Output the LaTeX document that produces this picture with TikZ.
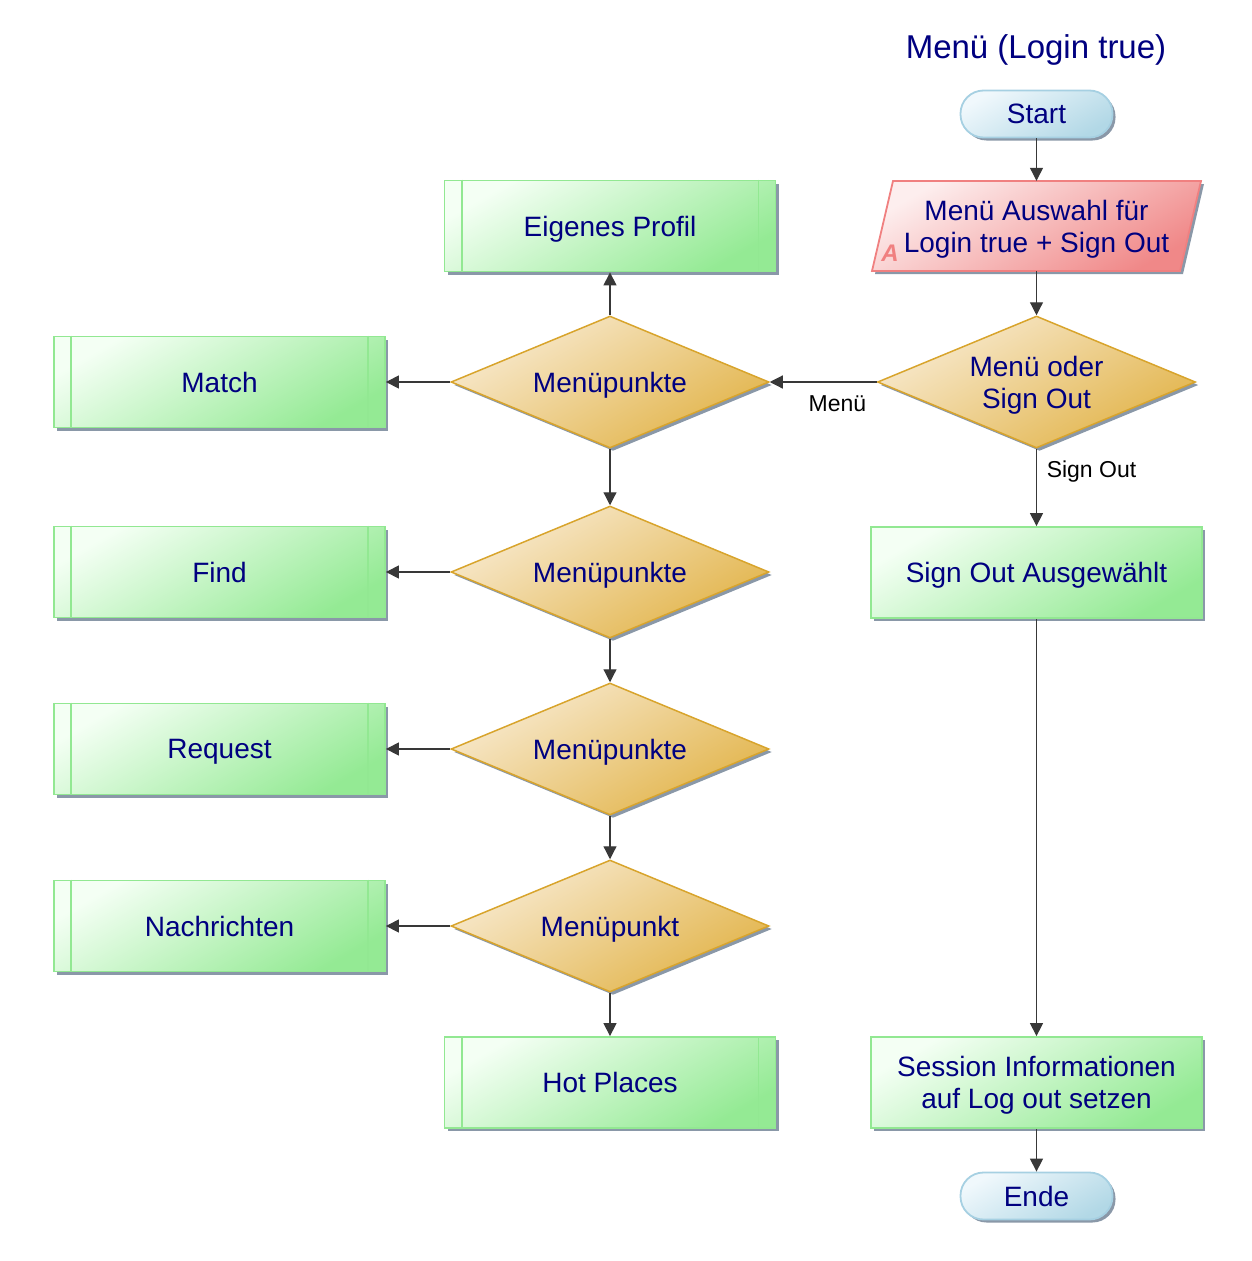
\documentclass[tikz,border=0pt]{standalone}
\usepackage{fontspec}
\setmainfont{Liberation Sans}
\usetikzlibrary{shapes.geometric,arrows.meta,shadows}
\definecolor{txt}{HTML}{000080}
\definecolor{grnA}{HTML}{F4FFF4}
\definecolor{grnB}{HTML}{94EA94}
\definecolor{grnLine}{HTML}{92E892}
\definecolor{golA}{HTML}{F8EAD0}
\definecolor{golB}{HTML}{E2B44A}
\definecolor{golLine}{HTML}{D8A42C}
\definecolor{pnkA}{HTML}{FDEEEE}
\definecolor{pnkB}{HTML}{F08888}
\definecolor{pnkLine}{HTML}{F08080}
\definecolor{bluA}{HTML}{F0F8FC}
\definecolor{bluB}{HTML}{B2D8E6}
\definecolor{bluLine}{HTML}{A6D0E2}
\definecolor{shad}{HTML}{8A98A8}
\begin{document}
\begin{tikzpicture}[x=1pt,y=-1pt,
  every node/.style={font=\fontsize{28}{32}\selectfont, text=txt, inner sep=0pt, align=center, text depth=0pt},
  myshadow/.style={general shadow={fill=shad, shadow xshift=3pt, shadow yshift=-3pt}},
  procbox/.style={rectangle, minimum width=331pt, minimum height=91pt, draw=grnLine, line width=1.8pt,
    top color=grnA, bottom color=grnB, shading angle=30, myshadow},
  decbox/.style={diamond, shape aspect=2.4, minimum width=318pt, minimum height=132pt, draw=golLine, line width=1.5pt,
    top color=golA, bottom color=golB, shading angle=30, myshadow},
  pill/.style={rectangle, rounded corners=23pt, minimum width=152pt, minimum height=47pt, draw=bluLine, line width=1.8pt,
    top color=bluA, bottom color=bluB, shading angle=30, myshadow},
  conn/.style={-{Triangle[length=13pt,width=13pt]}, line width=1.2pt, draw=black!78},
  lbl/.style={font=\fontsize{23}{26}\selectfont, text=black}
]
\useasboundingbox (0,0) rectangle (1252,1261);

% title
\node[font=\fontsize{33}{38}\selectfont] (title) at (1036,47) {Menü (Login true)};

% right column
\node[pill] (start) at (1036.5,114) {Start};

\fill[shad] (896,184) -- (1204,184) -- (1183,274) -- (875,274) -- cycle;
\shade[top color=pnkA, bottom color=pnkB, shading angle=30, draw=pnkLine, line width=1.8pt]
  (893,181) -- (1201,181) -- (1180,271) -- (872,271) -- cycle;
\node[minimum width=290pt, minimum height=90pt] (inp) at (1036.5,226) {Menü Auswahl für\\Login true + Sign Out};
\node[font=\fontsize{24}{24}\selectfont\bfseries\itshape, text=pnkLine] (amark) at (890,253) {A};

\node[decbox] (dec) at (1036.5,382) {Menü oder\\Sign Out};
\node[procbox] (so) at (1036.5,572.5) {Sign Out Ausgewählt};
\node[procbox] (sess) at (1036.5,1082.5) {Session Informationen\\auf Log out setzen};
\node[pill] (ende) at (1036.5,1196) {Ende};

% left column
\newcommand{\ppbars}[1]{%
  \draw[grnLine, line width=1.8pt] ([xshift=18pt]#1.north west) -- ([xshift=18pt]#1.south west);
  \draw[grnLine, line width=1.8pt] ([xshift=-18pt]#1.north east) -- ([xshift=-18pt]#1.south east);}

\node[procbox] (prof) at (610,226) {Eigenes Profil}; \ppbars{prof}
\node[decbox] (d1) at (610,382) {Menüpunkte};
\node[procbox] (match) at (219.5,382) {Match}; \ppbars{match}
\node[decbox] (d2) at (610,572) {Menüpunkte};
\node[procbox] (find) at (219.5,572) {Find}; \ppbars{find}
\node[decbox] (d3) at (610,749) {Menüpunkte};
\node[procbox] (req) at (219.5,749) {Request}; \ppbars{req}
\node[decbox] (d4) at (610,926) {Menüpunkt};
\node[procbox] (nach) at (219.5,926) {Nachrichten}; \ppbars{nach}
\node[procbox] (hot) at (610,1082.5) {Hot Places}; \ppbars{hot}

% connectors
\draw[conn] (start) -- (inp.north);
\draw[conn] (inp.south) -- (dec.north);
\draw[conn] (dec.west) -- node[lbl, pos=0.367, yshift=-22pt] (lmenu) {Menü} (d1.east);
\draw[conn] (dec.south) -- node[lbl, pos=0.27, xshift=55pt] (lso) {Sign Out} (so.north);
\draw[conn] (so.south) -- (sess.north);
\draw[conn] (sess.south) -- (ende.north);

\draw[conn] (d1.north) -- (prof.south);
\draw[conn] (d1.west) -- (match.east);
\draw[conn] (d1.south) -- (d2.north);
\draw[conn] (d2.west) -- (find.east);
\draw[conn] (d2.south) -- (d3.north);
\draw[conn] (d3.west) -- (req.east);
\draw[conn] (d3.south) -- (d4.north);
\draw[conn] (d4.west) -- (nach.east);
\draw[conn] (d4.south) -- (hot.north);
\end{tikzpicture}
\end{document}
